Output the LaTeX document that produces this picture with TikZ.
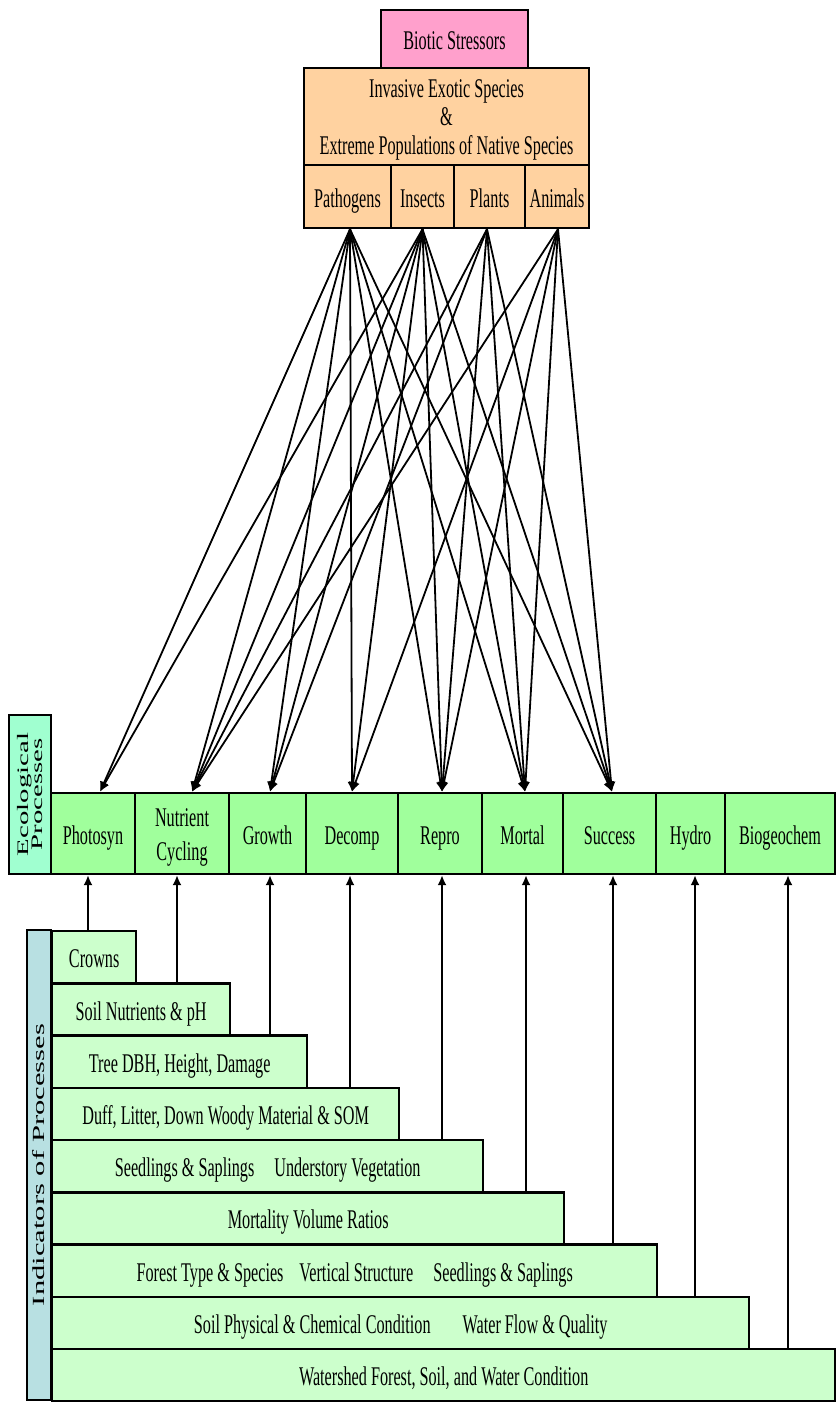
\documentclass[tikz,border=0pt]{standalone}
\usepackage{fontspec}
\setmainfont{Liberation Serif}[FakeStretch=0.6]
\newfontfamily\sidefont{Liberation Serif}[FakeStretch=1.8]
\usetikzlibrary{arrows.meta,calc}

\definecolor{stresspink}{HTML}{FFA0CC}
\definecolor{peach}{HTML}{FFD2A0}
\definecolor{procgreen}{HTML}{A0FF9C}
\definecolor{indgreen}{HTML}{CCFFCC}
\definecolor{mint}{HTML}{A0FFD0}
\definecolor{powder}{HTML}{B8E0E2}

\begin{document}
\begin{tikzpicture}[x=0.5pt,y=-0.5pt,
  box/.style={draw, line width=1.2pt, inner sep=0pt, align=center,
    font=\fontsize{13.5}{14.5}\selectfont},
  oneline/.style={text height=11pt, text depth=0.5pt},
  src/.style={box, oneline, fill=peach, minimum height=31.5pt},
  proc/.style={box, oneline, fill=procgreen, minimum height=40.5pt},
  ind/.style={box, oneline, fill=indgreen, minimum height=26.11pt, anchor=north west},
  side/.style={box, line width=1.2pt},
  arr/.style={-{Latex[length=5pt,width=4.5pt]}, line width=0.9pt},
]
\useasboundingbox (0,0) rectangle (836,1408);

% ---- stressor hierarchy ----
\node[box, oneline, fill=stresspink, minimum width=73.5pt, minimum height=29pt] (biotic) at (454.5,39) {Biotic Stressors};
\node[box, fill=peach, minimum width=142.5pt, minimum height=48.5pt] (invasive) at (446.5,116.5) {};
\node[align=center, inner sep=0pt, font=\fontsize{13.5}{14.25}\selectfont, yshift=-1.5pt] at (invasive.center)
  {Invasive Exotic Species\\\&\\Extreme Populations of Native Species};
\node[src, minimum width=43.5pt] (path)   at (347.5,196.5) {Pathogens};
\node[src, minimum width=31.5pt] (insect) at (422.5,196.5) {Insects};
\node[src, minimum width=35.5pt] (plant)  at (489.5,196.5) {Plants};
\node[src, minimum width=32pt]   (animal) at (557,196.5)   {Animals};

% ---- ecological processes ----
\node[side, fill=mint, minimum width=21pt, minimum height=79.5pt] (ecolab) at (30,794.5) {};
\node[rotate=90, align=center, font=\sidefont\fontsize{8}{7.3}\selectfont] at (ecolab.center) {Ecological\\Processes};

\node[proc, minimum width=42pt]   (photo)   at (93,833.5)    {Photosyn};
\node[box, fill=procgreen, minimum width=47pt, minimum height=40.5pt] (nutr) at (182,833.5) {};
\node[align=center, inner sep=0pt, font=\fontsize{13.5}{14.5}\selectfont, yshift=-2pt] at (nutr.center) {Nutrient\\[2.5pt]Cycling};
\node[proc, minimum width=38.5pt] (growth)  at (267.5,833.5) {Growth};
\node[proc, minimum width=46pt]   (decomp)  at (352,833.5)   {Decomp};
\node[proc, minimum width=42pt]   (repro)   at (440,833.5)   {Repro};
\node[proc, minimum width=40.5pt] (mortal)  at (522.5,833.5) {Mortal};
\node[proc, minimum width=46.5pt] (success) at (609.5,833.5) {Success};
\node[proc, minimum width=34.5pt] (hydro)   at (690.5,833.5) {Hydro};
\node[proc, minimum width=55pt]   (biogeo)  at (780,833.5)   {Biogeochem};

% ---- indicators ----
\node[side, fill=powder, minimum width=12pt, minimum height=235pt] (indlab) at (39,1165) {};
\node[rotate=90, font=\sidefont\fontsize{8.5}{9}\selectfont] at (indlab.center) {Indicators of Processes};

\node[ind, minimum width=42pt]    (crowns)   at (51,930)     {Crowns};
\node[ind, minimum width=89pt]    (soilnut)  at (51,982.22)  {Soil Nutrients \& pH};
\node[ind, minimum width=127.5pt] (tree)     at (51,1034.44) {Tree DBH, Height, Damage};
\node[ind, minimum width=173.5pt] (duff)     at (51,1086.67) {Duff, Litter, Down Woody Material \& SOM};
\node[ind, minimum width=215.5pt] (seed)     at (51,1138.89) {Seedlings \& Saplings\hspace{10pt}Understory Vegetation};
\node[ind, minimum width=256pt]   (mortvol)  at (51,1191.11) {Mortality Volume Ratios};
\node[ind, minimum width=302.5pt] (forest)   at (51,1243.33) {Forest Type \& Species\hspace{8pt}Vertical Structure\hspace{10pt}Seedlings \& Saplings};
\node[ind, minimum width=348.5pt] (soilphys) at (51,1295.56) {Soil Physical \& Chemical Condition\hspace{16pt}Water Flow \& Quality};
\node[ind, minimum width=391.5pt] (water)    at (51,1347.78) {Watershed Forest, Soil, and Water Condition};

% ---- indicator -> process links ----
\draw[arr] (crowns.north   -| 88,0)  -- (photo.south   -| 88,0);
\draw[arr] (soilnut.north  -| 177,0) -- (nutr.south    -| 177,0);
\draw[arr] (tree.north     -| 270,0) -- (growth.south  -| 270,0);
\draw[arr] (duff.north     -| 350,0) -- (decomp.south  -| 350,0);
\draw[arr] (seed.north     -| 442,0) -- (repro.south   -| 442,0);
\draw[arr] (mortvol.north  -| 526,0) -- (mortal.south  -| 526,0);
\draw[arr] (forest.north   -| 613,0) -- (success.south -| 613,0);
\draw[arr] (soilphys.north -| 695,0) -- (hydro.south   -| 695,0);
\draw[arr] (water.north    -| 788,0) -- (biogeo.south  -| 788,0);

% ---- stressor -> process links ----
\coordinate (pO)  at ([xshift=1.25pt]path.south);
\coordinate (iO)  at (insect.south);
\coordinate (plO) at ([xshift=-1.25pt]plant.south);
\coordinate (aO)  at ([xshift=0.5pt]animal.south);

\coordinate (photoIn)   at ([xshift=3.5pt]photo.north);
\coordinate (nutrIn)    at ([xshift=5pt]nutr.north);
\coordinate (growthIn)  at ([xshift=1.25pt]growth.north);
\coordinate (decompIn)  at (decomp.north);
\coordinate (reproIn)   at ([xshift=1pt]repro.north);
\coordinate (mortalIn)  at ([xshift=1.25pt]mortal.north);
\coordinate (successIn) at ([xshift=1.25pt]success.north);

\foreach \t in {photoIn,nutrIn,growthIn,decompIn,reproIn,mortalIn,successIn}
  \draw[arr] (pO) -- (\t);
\foreach \t in {photoIn,nutrIn,growthIn,decompIn,reproIn,mortalIn,successIn}
  \draw[arr] (iO) -- (\t);
\foreach \t in {nutrIn,growthIn,reproIn,mortalIn,successIn}
  \draw[arr] (plO) -- (\t);
\foreach \t in {nutrIn,decompIn,reproIn,mortalIn,successIn}
  \draw[arr] (aO) -- (\t);
\end{tikzpicture}
\end{document}
